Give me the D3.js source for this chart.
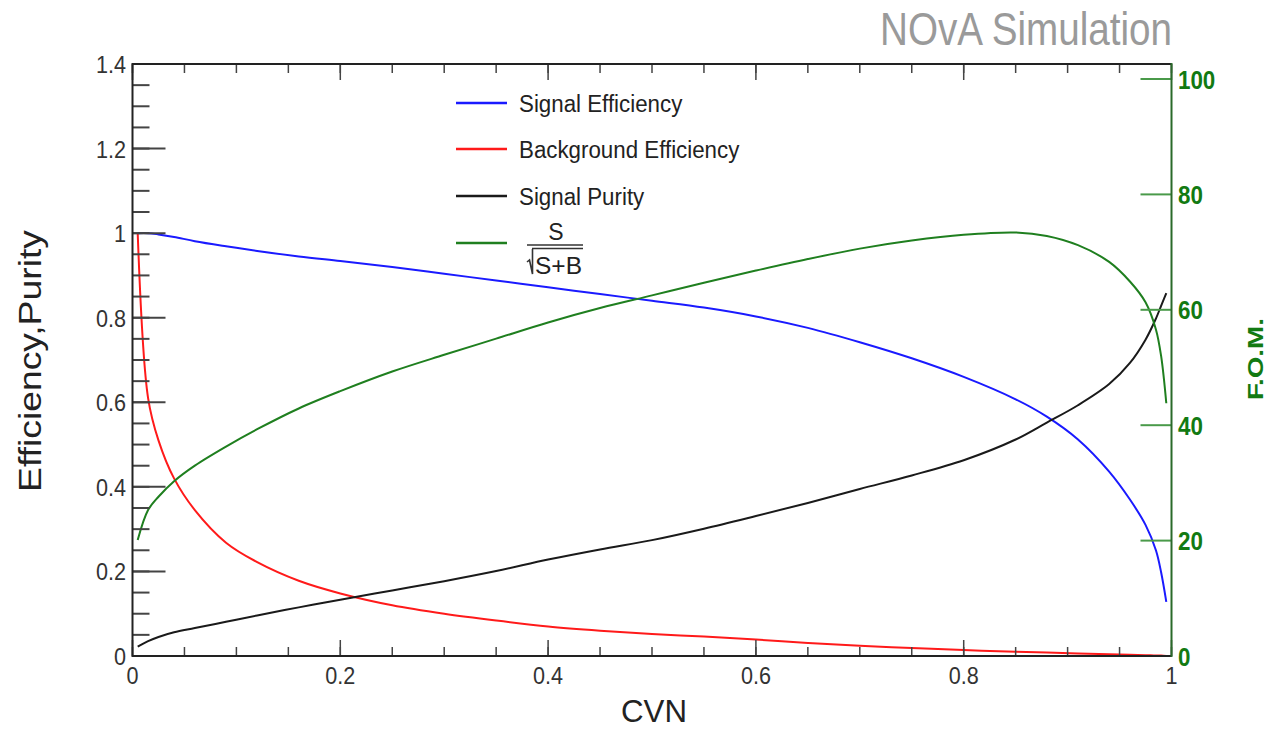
<!DOCTYPE html>
<html>
<head>
<meta charset="utf-8">
<script src="https://cdn.jsdelivr.net/npm/d3@7"></script>
<style>
  html, body { margin: 0; padding: 0; background: #fff; }
  svg { display: block; font-family: "Liberation Sans", Arial, Helvetica, sans-serif; }
</style>
</head>
<body>
<svg id="chart" width="1271" height="731"></svg>
<script>
// ---- data ----
const cvn = [0.005, 0.015, 0.025, 0.04, 0.06, 0.09, 0.12, 0.16, 0.2, 0.25, 0.3, 0.35, 0.4, 0.45, 0.5,
             0.55, 0.6, 0.65, 0.7, 0.75, 0.8, 0.85, 0.88, 0.91, 0.94, 0.96, 0.975, 0.985, 0.99, 0.995];
const signalEfficiency = [1.0, 1.0, 0.997, 0.991, 0.981, 0.969, 0.958, 0.945, 0.934, 0.920, 0.904, 0.888, 0.872, 0.856, 0.840,
             0.824, 0.803, 0.776, 0.742, 0.704, 0.660, 0.607, 0.566, 0.512, 0.436, 0.370, 0.310, 0.250, 0.198, 0.128];
const backgroundEfficiency = [1.0, 0.61, 0.51, 0.42, 0.345, 0.268, 0.222, 0.178, 0.148, 0.12, 0.1, 0.084, 0.07, 0.06, 0.052,
             0.046, 0.039, 0.031, 0.024, 0.019, 0.014, 0.010, 0.008, 0.006, 0.004, 0.003, 0.002, 0.001, 0.001, 0.0];
const signalPurity = [0.022, 0.035, 0.045, 0.056, 0.066, 0.081, 0.096, 0.115, 0.133, 0.155, 0.177, 0.201, 0.228, 0.252, 0.274,
             0.301, 0.331, 0.362, 0.395, 0.427, 0.463, 0.512, 0.552, 0.593, 0.643, 0.693, 0.748, 0.798, 0.828, 0.858];
const fom = [20.1, 25.3, 27.6, 30.3, 33.0, 36.3, 39.3, 42.9, 45.9, 49.3, 52.2, 55.0, 57.8, 60.3, 62.5,
             64.7, 66.8, 68.8, 70.6, 72.0, 73.0, 73.4, 72.8, 71.2, 68.3, 64.9, 61.3, 56.6, 52.0, 43.8];

const xTicks = [0, 0.2, 0.4, 0.6, 0.8, 1];
const xTickLabels = ["0", "0.2", "0.4", "0.6", "0.8", "1"];
const yTicks = [0, 0.2, 0.4, 0.6, 0.8, 1, 1.2, 1.4];
const yTickLabels = ["0", "0.2", "0.4", "0.6", "0.8", "1", "1.2", "1.4"];
const y2Ticks = [0, 20, 40, 60, 80, 100];
const y2TickLabels = ["0", "20", "40", "60", "80", "100"];
const legendLabels = ["Signal Efficiency", "Background Efficiency", "Signal Purity"];
const seriesColors = ["#1a1aff", "#ff1a1a", "#1a1a1a", "#1f7f1f"];

// ---- layout ----
const svg = d3.select("#chart");
const L = 132.5, R = 1171.5, T = 64, B = 656;
const x = d3.scaleLinear().domain([0, 1]).range([L, R]);
const y = d3.scaleLinear().domain([0, 1.4]).range([B, T]);
const y2 = d3.scaleLinear().domain([0, 102.6]).range([B, T]);

function squash(sel, f) {
  sel.each(function () {
    const w = this.getComputedTextLength();
    this.setAttribute("textLength", w * f);
    this.setAttribute("lengthAdjust", "spacingAndGlyphs");
  });
}

// title
svg.append("text").attr("x", 1172).attr("y", 45).attr("text-anchor", "end")
  .attr("font-size", 46).attr("fill", "#9a9a9a").text("NOvA Simulation")
  .attr("textLength", 292).attr("lengthAdjust", "spacingAndGlyphs");

// curves
svg.append("clipPath").attr("id", "clip").append("rect")
  .attr("x", L).attr("y", T).attr("width", R - L).attr("height", B - T);
const g = svg.append("g").attr("clip-path", "url(#clip)");
const curve = d3.curveCatmullRom.alpha(0.5);
const lineL = d3.line().x((d, i) => x(cvn[i])).y(d => y(d)).curve(curve);
const lineR = d3.line().x((d, i) => x(cvn[i])).y(d => y2(d)).curve(curve);
[signalEfficiency, backgroundEfficiency, signalPurity].forEach((s, k) => {
  g.append("path").datum(s).attr("d", lineL).attr("fill", "none")
    .attr("stroke", seriesColors[k]).attr("stroke-width", 2);
});
g.append("path").datum(fom).attr("d", lineR).attr("fill", "none")
  .attr("stroke", seriesColors[3]).attr("stroke-width", 2);

// left axis
const yMinor = d3.range(0, 1.4001, 0.05);
const axL = svg.append("g");
axL.selectAll("line.minor").data(yMinor).join("line").attr("class", "minor")
  .attr("x1", L).attr("x2", L + 17).attr("y1", d => y(d)).attr("y2", d => y(d))
  .attr("stroke", "#444").attr("stroke-width", 2);
axL.selectAll("line.major").data(yTicks).join("line").attr("class", "major")
  .attr("x1", L).attr("x2", L + 33).attr("y1", d => y(d)).attr("y2", d => y(d))
  .attr("stroke", "#444").attr("stroke-width", 2);
axL.selectAll("text").data(yTicks).join("text")
  .attr("x", 126).attr("y", d => y(d) + 9).attr("text-anchor", "end")
  .attr("font-size", 24).attr("fill", "#333").text((d, i) => yTickLabels[i])
  .call(squash, 0.9);

// bottom + top axes
const xMinor = d3.range(0, 1.0001, 0.05);
const axB = svg.append("g");
axB.selectAll("line.bmin").data(xMinor).join("line").attr("class", "bmin")
  .attr("x1", d => x(d)).attr("x2", d => x(d)).attr("y1", B).attr("y2", B - 9)
  .attr("stroke", "#444").attr("stroke-width", 1.5);
axB.selectAll("line.bmaj").data(xTicks).join("line").attr("class", "bmaj")
  .attr("x1", d => x(d)).attr("x2", d => x(d)).attr("y1", B).attr("y2", B - 16)
  .attr("stroke", "#444").attr("stroke-width", 1.5);
axB.selectAll("line.tmin").data(xMinor).join("line").attr("class", "tmin")
  .attr("x1", d => x(d)).attr("x2", d => x(d)).attr("y1", T).attr("y2", T + 9)
  .attr("stroke", "#444").attr("stroke-width", 1.5);
axB.selectAll("line.tmaj").data(xTicks).join("line").attr("class", "tmaj")
  .attr("x1", d => x(d)).attr("x2", d => x(d)).attr("y1", T).attr("y2", T + 16)
  .attr("stroke", "#444").attr("stroke-width", 1.5);
axB.selectAll("text").data(xTicks).join("text")
  .attr("x", d => x(d)).attr("y", 684).attr("text-anchor", "middle")
  .attr("font-size", 24).attr("fill", "#333").text((d, i) => xTickLabels[i])
  .call(squash, 0.9);

// right (F.O.M.) axis
const axR = svg.append("g");
axR.selectAll("line").data(y2Ticks).join("line")
  .attr("x1", R - 31).attr("x2", R).attr("y1", d => y2(d)).attr("y2", d => y2(d))
  .attr("stroke", "#4a9a4a").attr("stroke-width", 2);
axR.selectAll("text").data(y2Ticks).join("text")
  .attr("x", 1178).attr("y", d => y2(d) + 9.5)
  .attr("font-size", 26).attr("font-weight", "bold").attr("fill", "#127a12")
  .text((d, i) => y2TickLabels[i]).call(squash, 0.86);

// frame
svg.append("path").attr("d", `M${R},${T}H${L}V${B}H${R}`).attr("fill", "none")
  .attr("stroke", "#222").attr("stroke-width", 2);
svg.append("line").attr("x1", R).attr("x2", R).attr("y1", T - 1).attr("y2", B + 1)
  .attr("stroke", "#2a6a2a").attr("stroke-width", 2);

// axis titles
svg.append("text").attr("transform", "translate(41,361) rotate(-90)")
  .attr("text-anchor", "middle").attr("font-size", 32).attr("fill", "#222")
  .text("Efficiency,Purity").attr("textLength", 262).attr("lengthAdjust", "spacingAndGlyphs");
svg.append("text").attr("x", 654).attr("y", 722).attr("text-anchor", "middle")
  .attr("font-size", 32).attr("fill", "#222").text("CVN")
  .attr("textLength", 66).attr("lengthAdjust", "spacingAndGlyphs");
svg.append("text").attr("transform", "translate(1263,359) rotate(-90)")
  .attr("text-anchor", "middle").attr("font-size", 22).attr("font-weight", "bold")
  .attr("fill", "#127a12").text("F.O.M.")
  .attr("textLength", 82).attr("lengthAdjust", "spacingAndGlyphs");

// legend
const legY = [103, 149, 196, 243];
const leg = svg.append("g");
legY.forEach((ly, k) => {
  leg.append("line").attr("x1", 456).attr("x2", 507).attr("y1", ly).attr("y2", ly)
    .attr("stroke", seriesColors[k]).attr("stroke-width", 2.5);
});
legendLabels.forEach((t, k) => {
  leg.append("text").attr("x", 519).attr("y", legY[k] + 8.5).attr("font-size", 23)
    .attr("fill", "#222").text(t).call(squash, 0.97);
});
// S / sqrt(S+B)
leg.append("text").attr("x", 556).attr("y", 240).attr("text-anchor", "middle")
  .attr("font-size", 23).attr("fill", "#222").text("S");
leg.append("line").attr("x1", 527).attr("x2", 583).attr("y1", 245).attr("y2", 245)
  .attr("stroke", "#333").attr("stroke-width", 1.5);
leg.append("line").attr("x1", 532).attr("x2", 583).attr("y1", 248.5).attr("y2", 248.5)
  .attr("stroke", "#333").attr("stroke-width", 1.5);
leg.append("path").attr("d", "M527,262 L529.5,260 L532.5,274 L532.5,249")
  .attr("fill", "none").attr("stroke", "#333").attr("stroke-width", 1.6);
leg.append("text").attr("x", 535).attr("y", 274)
  .attr("font-size", 23).attr("fill", "#222").text("S+B")
  .attr("textLength", 47).attr("lengthAdjust", "spacingAndGlyphs");
</script>
</body>
</html>
